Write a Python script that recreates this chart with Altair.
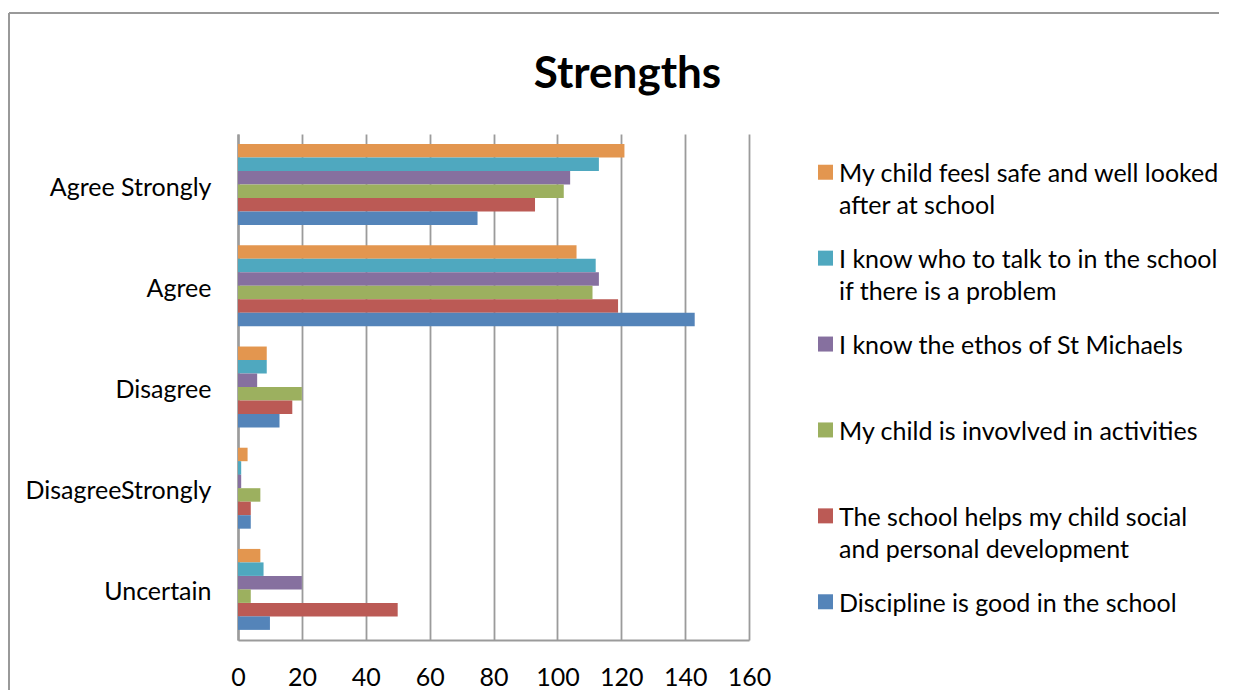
import altair as alt
import pandas as pd

FONT = "Lato"

categories = ["Agree Strongly", "Agree", "Disagree", "DisagreeStrongly", "Uncertain"]

series_names = [
    "My child feesl safe and well looked after at school",
    "I know who to talk to in the school if there is a problem",
    "I know the ethos of St Michaels",
    "My child is invovlved in activities",
    "The school helps my child social and personal development",
    "Discipline is good in the school",
]
legend_labels = [
    "My child feesl safe and well looked\nafter at school",
    "I know who to talk to in the school\nif there is a problem",
    "I know the ethos of St Michaels",
    "My child is invovlved in activities",
    "The school helps my child social\nand personal development",
    "Discipline is good in the school",
]
series_colors = ["#E3964F", "#4FA8BF", "#86709F", "#9CB05F", "#BB5A55", "#5484B9"]

safe_values = [121, 106, 9, 3, 7]
talk_values = [113, 112, 9, 1, 8]
ethos_values = [104, 113, 6, 1, 20]
involved_values = [102, 111, 20, 7, 4]
helps_values = [93, 119, 17, 4, 50]
discipline_values = [75, 143, 13, 4, 10]

all_values = [safe_values, talk_values, ethos_values, involved_values, helps_values, discipline_values]

rows = []
for name, vals in zip(series_names, all_values):
    for cat, v in zip(categories, vals):
        rows.append({"Response": cat, "Series": name, "Count": v})
df = pd.DataFrame(rows)

legend_df = pd.DataFrame({"Series": series_names, "Label": legend_labels})

x_ticks = list(range(0, 161, 20))
color_scale = alt.Scale(domain=series_names, range=series_colors)
FS = 25

bars = alt.Chart(df).mark_bar().encode(
    x=alt.X(
        "Count:Q",
        scale=alt.Scale(domain=[0, 160], nice=False),
        axis=alt.Axis(
            values=x_ticks,
            title=None,
            grid=True,
            gridColor="#9B9B9B",
            gridWidth=1.8,
            domainColor="#9B9B9B",
            domainWidth=2,
            ticks=False,
            labelFont=FONT,
            labelFontSize=FS,
            labelColor="black",
            labelPadding=25,
            labelOverlap=False,
            labelFlush=False,
        ),
    ),
    y=alt.Y(
        "Response:N",
        sort=categories,
        scale=alt.Scale(paddingInner=0.2, paddingOuter=0.1),
        axis=alt.Axis(
            title=None,
            ticks=False,
            grid=False,
            domainColor="#9B9B9B",
            domainWidth=2.5,
            labelFont=FONT,
            labelFontSize=FS,
            labelColor="black",
            labelPadding=27,
            labelLimit=400,
            labelBaseline="middle",
            labelOffset=3,
        ),
    ),
    yOffset=alt.YOffset("Series:N", sort=series_names,
                        scale=alt.Scale(paddingInner=0, paddingOuter=0)),
    color=alt.Color("Series:N", sort=series_names, scale=color_scale, legend=None),
)

legend_y = alt.Y("Series:N", sort=series_names,
                 scale=alt.Scale(type="point", padding=0.445), axis=None)

legend_squares = alt.Chart(legend_df).mark_square(size=225, opacity=1).encode(
    x=alt.value(587.5),
    y=legend_y,
    color=alt.Color("Series:N", sort=series_names, scale=color_scale, legend=None),
)

legend_text = alt.Chart(legend_df).mark_text(
    align="left", baseline="alphabetic", font=FONT, fontSize=FS,
    lineBreak="\n", lineHeight=32, dy=10, color="black",
).encode(
    x=alt.value(601),
    y=legend_y,
    text="Label:N",
)

frame_df = pd.DataFrame({"k": [0]})
top_border = alt.Chart(frame_df).mark_rule(color="#999999", strokeWidth=2).encode(
    x=alt.value(-229), x2=alt.value(985), y=alt.value(-121)
)
left_border = alt.Chart(frame_df).mark_rule(color="#999999", strokeWidth=2).encode(
    x=alt.value(-229), y=alt.value(-121), y2=alt.value(600)
)

chart = alt.layer(bars, legend_squares, legend_text, top_border, left_border).resolve_scale(
    y="independent"
).properties(
    width=511,
    height=506,
    autosize=alt.AutoSizeParams(type="none"),
    padding={"left": 230, "top": 126, "right": 470, "bottom": 50},
    title=alt.Title(
        "Strengths",
        font=FONT,
        fontSize=44,
        fontWeight="bold",
        color="black",
        anchor="middle",
        frame="group",
        dx=134,
        offset=-120,
        baseline="alphabetic",
    ),
).configure_view(stroke=None)

chart.save("out.html", embed_options={"renderer": "svg", "actions": False})
